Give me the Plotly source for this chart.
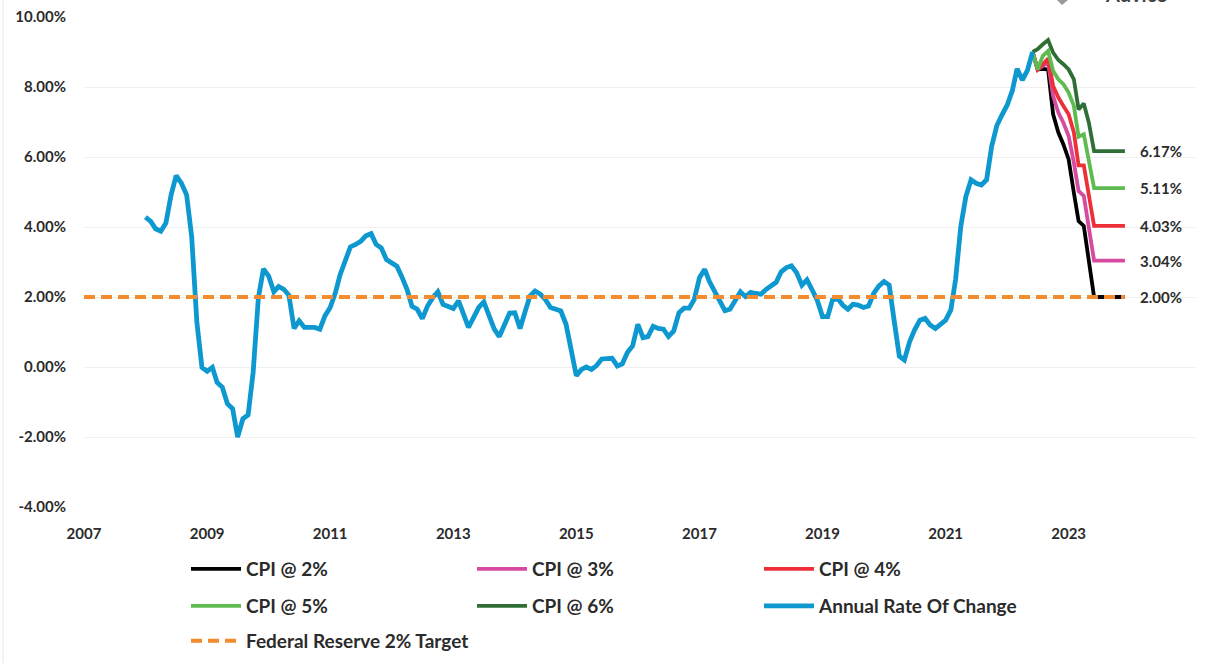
import pandas as pd
import plotly.graph_objects as go

rate_2008 = [4.28,4.16,3.95,3.88,4.11,4.92,5.47,5.25,4.92,3.73,1.27,-0.01]
rate_2009 = [-0.12,-0.01,-0.44,-0.58,-1.05,-1.19,-2.0,-1.48,-1.37,-0.15,1.98,2.8]
rate_2010 = [2.6,2.15,2.3,2.22,2.05,1.1,1.32,1.13,1.13,1.13,1.08,1.46]
rate_2011 = [1.7,2.12,2.64,3.02,3.43,3.5,3.59,3.75,3.81,3.5,3.4,3.07]
rate_2012 = [2.98,2.88,2.58,2.22,1.73,1.65,1.38,1.74,1.98,2.15,1.79,1.73]
rate_2013 = [1.67,1.89,1.51,1.13,1.41,1.7,1.86,1.46,1.08,0.87,1.22,1.54]
rate_2014 = [1.55,1.1,1.55,2.03,2.17,2.08,1.93,1.7,1.65,1.6,1.22,0.42]
rate_2015 = [-0.25,-0.07,0.0,-0.07,0.04,0.23,0.25,0.25,0.03,0.09,0.42,0.6]
rate_2016 = [1.22,0.84,0.87,1.16,1.1,1.08,0.87,1.03,1.55,1.68,1.68,1.93]
rate_2017 = [2.55,2.79,2.44,2.15,1.87,1.61,1.65,1.87,2.15,2.01,2.13,2.1]
rate_2018 = [2.08,2.22,2.31,2.42,2.72,2.84,2.89,2.69,2.34,2.49,2.2,1.91]
rate_2019 = [1.44,1.44,1.91,1.96,1.77,1.65,1.79,1.77,1.7,1.74,2.1,2.31]
rate_2020 = [2.44,2.34,1.34,0.31,0.2,0.72,1.06,1.34,1.39,1.2,1.1,1.23]
rate_2021 = [1.34,1.63,2.5,4.02,4.87,5.35,5.25,5.2,5.35,6.3,6.9,7.2]
rate_2022 = [7.48,7.9,8.52,8.2,8.47,9.0]
annual_rate = (rate_2008+rate_2009+rate_2010+rate_2011+rate_2012+rate_2013+rate_2014
               +rate_2015+rate_2016+rate_2017+rate_2018+rate_2019+rate_2020+rate_2021+rate_2022)

# Scenario paths, Jun 2022 to Dec 2023
cpi_2 = [9.0,8.5,8.52,8.5,7.22,6.7,6.36,5.93,4.98,4.17,4.03,2.98,2.0,2.0,2.0,2.0,2.0,2.0,2.0]
cpi_3 = [9.0,8.5,8.6,8.7,7.74,7.27,6.98,6.6,5.84,5.03,4.89,3.93,3.04,3.04,3.04,3.04,3.04,3.04,3.04]
cpi_4 = [9.0,8.5,8.65,8.81,8.03,7.7,7.46,7.22,6.7,5.76,5.76,4.89,4.03,4.03,4.03,4.03,4.03,4.03,4.03]
cpi_5 = [9.0,8.5,8.89,9.03,8.46,8.22,8.08,7.84,7.46,6.58,6.65,5.93,5.11,5.11,5.11,5.11,5.11,5.11,5.11]
cpi_6 = [9.0,9.08,9.22,9.34,8.98,8.77,8.65,8.5,8.22,7.36,7.53,6.98,6.17,6.17,6.17,6.17,6.17,6.17,6.17]
target_dates = ["2007-01-01", "2023-12-01"]
target_vals = [2.0, 2.0]
y_ticks = [-4, -2, 0, 2, 4, 6, 8, 10]
y_labels = ["-4.00%", "-2.00%", "0.00%", "2.00%", "4.00%", "6.00%", "8.00%", "10.00%"]
x_ticks = ["2007-01-01", "2009-01-01", "2011-01-01", "2013-01-01", "2015-01-01",
           "2017-01-01", "2019-01-01", "2021-01-01", "2023-01-01"]
x_labels = ["2007", "2009", "2011", "2013", "2015", "2017", "2019", "2021", "2023"]

rate_dates = pd.date_range("2008-01-01", periods=len(annual_rate), freq="MS")
cpi_dates = pd.date_range("2022-06-01", periods=len(cpi_2), freq="MS")

series = [
    ("CPI @ 2%", cpi_dates, cpi_2, "#000000", 3.8, "solid", "legend", 192, 569),
    ("CPI @ 3%", cpi_dates, cpi_3, "#D64AA0", 3.8, "solid", "legend2", 478, 569),
    ("CPI @ 4%", cpi_dates, cpi_4, "#EE2F38", 3.8, "solid", "legend3", 765, 569),
    ("CPI @ 5%", cpi_dates, cpi_5, "#5EBB50", 3.8, "solid", "legend4", 192, 606),
    ("CPI @ 6%", cpi_dates, cpi_6, "#2F6F36", 3.8, "solid", "legend5", 478, 606),
    ("Annual Rate Of Change", rate_dates, annual_rate, "#0E98D0", 4.8, "solid", "legend6", 765, 606),
    ("Federal Reserve 2% Target", target_dates, target_vals, "#F58B2F", 4, "11px,6px", "legend7", 192, 641),
]

FONT = "Lato, Carlito, Calibri, sans-serif"
TXT = "#2b2b2b"
W, H = 1220, 663
L, R, T, B = 84, 25, 17, 156
PW, PH = W - L - R, H - T - B

fig = go.Figure()
layout_legends = {}
for name, xs, ys, color, width, dash, leg, lx, ly in series:
    fig.add_trace(go.Scatter(x=list(xs), y=ys, mode="lines", name=name, legend=leg,
                             line=dict(color=color, width=width, dash=dash)))
    layout_legends[leg] = dict(
        xref="paper", yref="paper",
        x=(lx - 6 - L) / PW, y=(H - B - ly) / PH, xanchor="left", yanchor="middle",
        bgcolor="rgba(0,0,0,0)", itemwidth=50, borderwidth=0,
        font=dict(family=FONT, size=19, color=TXT, weight="bold"),
    )

for val, ys in [(2.0, cpi_2), (3.04, cpi_3), (4.03, cpi_4), (5.11, cpi_5), (6.17, cpi_6)]:
    fig.add_annotation(x=cpi_dates[-1], y=ys[-1], text=f"{val:.2f}%", showarrow=False,
                       xanchor="left", xshift=13,
                       font=dict(family=FONT, size=15, color=TXT, weight="bold"))

# Logo fragment cropped by the top edge, as in the source picture
fig.add_annotation(xref="paper", yref="paper", x=(1103 - L) / PW, y=1 + (T + 6) / PH,
                   text="Advice", showarrow=False, xanchor="left", yanchor="middle",
                   font=dict(family=FONT, size=20, color="#444444", weight="bold"))
fig.add_shape(type="path", xref="paper", yref="paper",
              path=f"M {(1057-L)/PW} {1+T/PH} L {(1068-L)/PW} {1+T/PH} L {(1062-L)/PW} {1+(T-5)/PH} Z",
              fillcolor="#9A9A9A", line=dict(width=0))

fig.add_shape(type="line", xref="paper", yref="paper", x0=-81 / PW, x1=-81 / PW,
              y0=-B / PH, y1=1 + T / PH, line=dict(color="#E6E6E6", width=1))

fig.update_layout(
    width=W, height=H, margin=dict(l=L, r=R, t=T, b=B, autoexpand=False),
    paper_bgcolor="white", plot_bgcolor="white", showlegend=True,
    font=dict(family=FONT, size=15, color=TXT, weight="bold"),
    xaxis=dict(type="date", range=["2007-01-01", "2025-01-20"], tickvals=x_ticks, ticktext=x_labels,
               showgrid=False, zeroline=False, showline=False, ticks="",
               ticklabelstandoff=16, tickfont=dict(family=FONT, size=15, color=TXT, weight="bold"),
               automargin=False),
    yaxis=dict(range=[-4, 10], tickvals=y_ticks, ticktext=y_labels, showgrid=True,
               gridcolor="#EFEFEF", gridwidth=1, zeroline=False, showline=False, ticks="",
               ticklabelstandoff=17, tickfont=dict(family=FONT, size=15, color=TXT, weight="bold"),
               automargin=False),
    **layout_legends,
)

fig.write_html("out.html", config={"displayModeBar": False},
               post_script="document.body.style.margin='0';")
